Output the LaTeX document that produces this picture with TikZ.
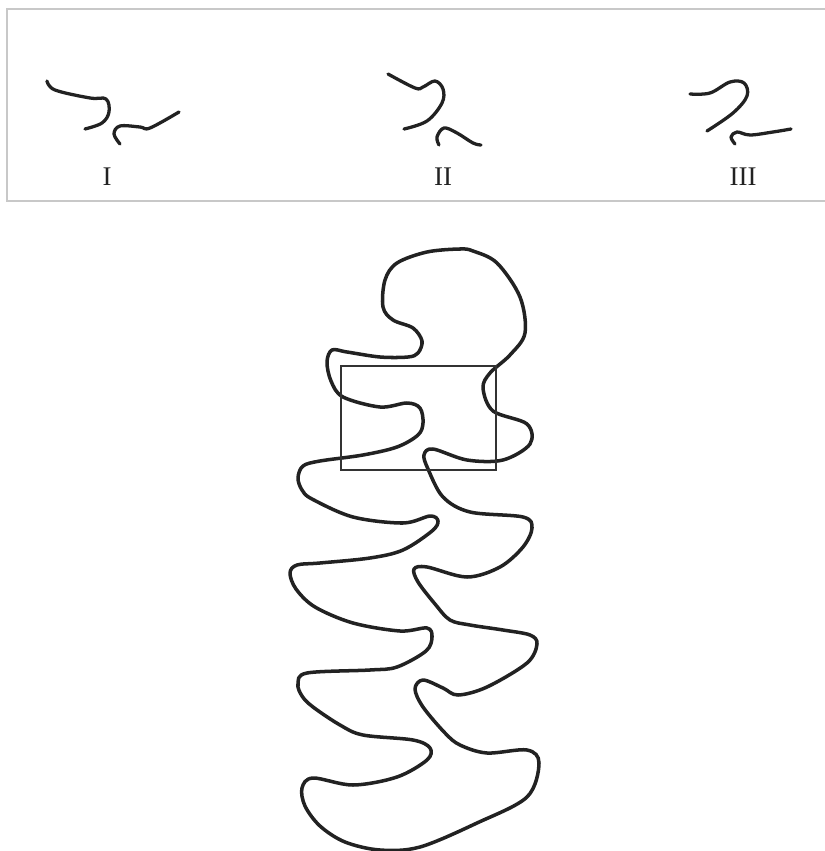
\documentclass[tikz,border=0pt]{standalone}
\usepackage{fontspec}
\setmainfont{Liberation Serif}
\usetikzlibrary{calc}
\definecolor{CoilInk}{HTML}{222222}
\definecolor{CoilFrame}{HTML}{C8C8C8}
\definecolor{CoilBox}{HTML}{333333}
\tikzset{
  coil line/.style={draw=CoilInk, line width=3pt, line cap=round, line join=round},
  coil piece/.style={coil line, line width=2.8pt},
  coil frame/.style={draw=CoilFrame, line width=1.2pt},
  coil window/.style={draw=CoilBox, line width=1.3pt},
  coil label/.style={font=\fontsize{23}{27}\selectfont, text=CoilInk, inner sep=0pt},
}
\begin{document}
\begin{tikzpicture}[x=0.03cm,y=-0.03cm]
  \useasboundingbox (0,0) rectangle (825,851);

  % Panel of the three local configurations (open on the right).
  \draw[coil frame] (826,9) -- (7,9) -- (7,201) -- (826,201);

  % I
  \draw[coil piece] plot[smooth, tension=.6] coordinates
    {(47,81) (55,90) (90,98) (106,99) (109,112) (102,123) (85,129)};
  \draw[coil piece] plot[smooth, tension=.6] coordinates
    {(120,144) (114,134) (120,126) (140,127) (150,128) (179,112)};
  \node[coil label] (lblI) at (107,177) {I};

  % II
  \draw[coil piece] plot[smooth, tension=.6] coordinates
    {(388,74) (415,88) (423,87) (435,81) (443,89) (442,103) (427,121) (404,129)};
  \draw[coil piece] plot[smooth, tension=.6] coordinates
    {(439,145) (437,137) (444,128) (457,133) (473,143) (481,145)};
  \node[coil label] (lblII) at (443,177) {II};

  % III
  \draw[coil piece] plot[smooth, tension=.6] coordinates
    {(690,94) (710,93) (730,82) (744,83) (747,96) (733,113) (707,131)};
  \draw[coil piece] plot[smooth, tension=.6] coordinates
    {(735,144) (731,137) (737,132) (750,135) (773,132) (791,129)};
  \node[coil label] (lblIII) at (743,177) {III};

  % The long closed coil.
  \draw[coil line] plot[smooth cycle, tension=.55] coordinates {
    (460,249) (427,252) (397,263) (385,280) (383,307) (393,320) (413,328)
    (422,341) (418,353) (408,357) (380,357) (347,352) (332,350) (327,362)
    (331,381) (343,397) (380,407) (407,403) (420,408) (423,423) (418,435)
    (397,447) (363,455) (320,461) (303,466) (298,478) (302,490) (312,499)
    (353,517) (403,523) (430,516) (438,521) (432,531) (403,550) (370,558)
    (320,563) (297,565) (290,573) (296,589) (315,607) (353,623) (400,631)
    (427,628) (432,637) (426,651) (397,667) (370,670) (307,673) (298,684)
    (302,696) (313,707) (340,725) (363,735) (413,740) (430,748) (427,760)
    (397,777) (353,785) (313,778) (302,788) (305,806) (320,826) (345,842)
    (380,850) (420,847) (477,823) (527,797) (539,763) (527,750) (487,753)
    (460,745) (445,733) (423,707) (415,689) (423,680) (443,688) (458,695)
    (487,687) (527,663) (537,644) (530,635) (503,630) (470,625) (450,620)
    (435,604) (418,582) (414,569) (427,567) (467,577) (500,567) (523,547)
    (532,528) (523,517) (470,512) (443,497) (428,469) (424,455) (433,449)
    (467,460) (503,460) (530,444) (527,424) (493,411) (483,388) (490,373)
    (510,355) (525,333) (520,297) (497,263) (473,251)};

  % Window over the crossing region.
  \draw[coil window] (341,366) rectangle (496,470);
\end{tikzpicture}
\end{document}
